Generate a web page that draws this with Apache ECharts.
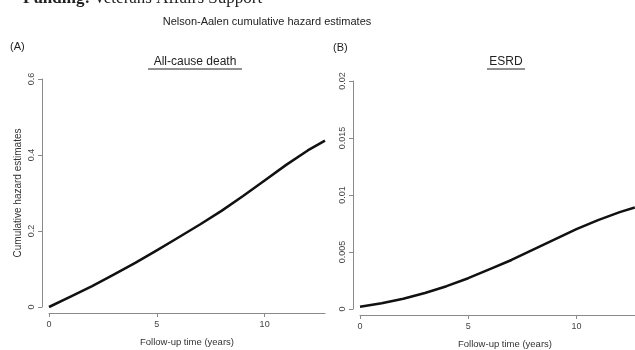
<!DOCTYPE html>
<html>
<head>
<meta charset="utf-8">
<script src="https://cdn.jsdelivr.net/npm/echarts@6/dist/echarts.min.js"></script>
<style>
html,body{margin:0;padding:0;background:#fff;}
#c{width:635px;height:350px;}
</style>
</head>
<body>
<div id="c"></div>
<script>
// Data
var timeA = [0, 1, 2, 3, 4, 5, 6, 7, 8, 9, 10, 11, 12, 12.8];
var hazardA = [0, 0.027, 0.055, 0.085, 0.116, 0.149, 0.183, 0.217, 0.253, 0.292, 0.333, 0.374, 0.412, 0.438];
var timeB = [0, 1, 2, 3, 4, 5, 6, 7, 8, 9, 10, 11, 12, 12.7];
var hazardB = [0.0002, 0.0005, 0.0009, 0.0014, 0.002, 0.0027, 0.0035, 0.0043, 0.0052, 0.0061, 0.007, 0.0078, 0.0085, 0.0089];
var xTicks = [0, 5, 10];
var yTicksA = [0, 0.2, 0.4, 0.6];
var yTicksB = [0, 0.005, 0.01, 0.015, 0.02];
var mainTitle = 'Nelson-Aalen cumulative hazard estimates';
var panelTitles = ['All-cause death', 'ESRD'];
var panelLetters = ['(A)', '(B)'];
var yName = 'Cumulative hazard estimates';
var xName = 'Follow-up time (years)';

function pairs(xs, ys){ return xs.map(function(x,i){ return [x, ys[i]]; }); }

var axisGray = '#8a8a8a';
var labelColor = '#444';
var fontFam = '"Liberation Sans", Arial, sans-serif';

function xAxisCfg(idx, max){
  return {
    type: 'value', gridIndex: idx, min: 0, max: max, interval: 5,
    offset: 6,
    axisLine: {show: true, onZero: false, lineStyle: {color: axisGray, width: 1}},
    axisTick: {show: true, length: 4, customValues: xTicks, lineStyle: {color: axisGray}},
    splitLine: {show: false},
    axisLabel: {color: labelColor, fontSize: 9, fontFamily: fontFam, margin: 7, customValues: xTicks},
    name: xName, nameLocation: 'middle', nameGap: 24,
    nameTextStyle: {color: '#333', fontSize: 9.5, fontFamily: fontFam}
  };
}
function yAxisCfg(idx, max, interval, ticks, withName){
  var c = {
    type: 'value', gridIndex: idx, min: 0, max: max, interval: interval,
    offset: 7,
    axisLine: {show: true, onZero: false, lineStyle: {color: axisGray, width: 1}},
    axisTick: {show: true, length: 4, customValues: ticks, lineStyle: {color: axisGray}},
    splitLine: {show: false},
    axisLabel: {color: labelColor, fontSize: 9, fontFamily: fontFam, rotate: 90, margin: 6, customValues: ticks,
      formatter: function(v){
        for (var i=0;i<ticks.length;i++){ if (Math.abs(ticks[i]-v) < 1e-9) return String(ticks[i]); }
        return String(v);
      }}
  };
  if (withName){
    c.name = yName; c.nameLocation = 'middle'; c.nameGap = 19;
    c.nameTextStyle = {color: '#333', fontSize: 10, fontFamily: fontFam};
  }
  return c;
}

var chart = echarts.init(document.getElementById('c'), null, {renderer: 'canvas'});
var option = {
  backgroundColor: '#ffffff',
  animation: false,
  title: {
    text: mainTitle, left: 262, top: 11, textAlign: 'center',
    textStyle: {fontSize: 11, fontWeight: 'normal', color: '#222', fontFamily: fontFam}
  },
  grid: [
    {left: 49, top: 79, width: 276, bottom: 43, outerBoundsMode: 'none', containLabel: false},
    {left: 360, top: 81, width: 290, bottom: 41, outerBoundsMode: 'none', containLabel: false}
  ],
  xAxis: [xAxisCfg(0, 12.8), xAxisCfg(1, 13.4)],
  yAxis: [yAxisCfg(0, 0.6, 0.2, yTicksA, true), yAxisCfg(1, 0.02, 0.005, yTicksB, false)],
  series: [
    {type: 'line', xAxisIndex: 0, yAxisIndex: 0, data: pairs(timeA, hazardA),
      smooth: false, showSymbol: false, lineStyle: {color: '#111', width: 2.5, join: 'round'}},
    {type: 'line', xAxisIndex: 1, yAxisIndex: 1, data: pairs(timeB, hazardB),
      smooth: false, showSymbol: false, lineStyle: {color: '#111', width: 2.5, join: 'round'}}
  ],
  graphic: [
    {type: 'text', left: 23, top: -10, style: {
      text: '{b|Funding:} {r|Veterans Affairs Support}',
      rich: {
        b: {fontFamily: '"Liberation Serif", "Times New Roman", serif', fontSize: 17, fontWeight: 'bold', fill: '#222'},
        r: {fontFamily: '"Liberation Serif", "Times New Roman", serif', fontSize: 17, fill: '#222'}
      }}},
    {type: 'text', left: 10, top: 41, style: {text: panelLetters[0], fontSize: 11, fontFamily: fontFam, fill: '#222'}},
    {type: 'text', left: 333, top: 42, style: {text: panelLetters[1], fontSize: 11, fontFamily: fontFam, fill: '#222'}},
    {type: 'text', x: 195, y: 62, style: {text: panelTitles[0], fontSize: 12, fontFamily: fontFam, fill: '#222', align: 'center', verticalAlign: 'middle'}},
    {type: 'line', shape: {x1: 148, y1: 69, x2: 242, y2: 69}, style: {stroke: '#222', lineWidth: 1}},
    {type: 'text', x: 506, y: 62, style: {text: panelTitles[1], fontSize: 12, fontFamily: fontFam, fill: '#222', align: 'center', verticalAlign: 'middle'}},
    {type: 'line', shape: {x1: 487, y1: 69, x2: 525, y2: 69}, style: {stroke: '#222', lineWidth: 1}}
  ]
};
chart.setOption(option);
</script>
</body>
</html>
